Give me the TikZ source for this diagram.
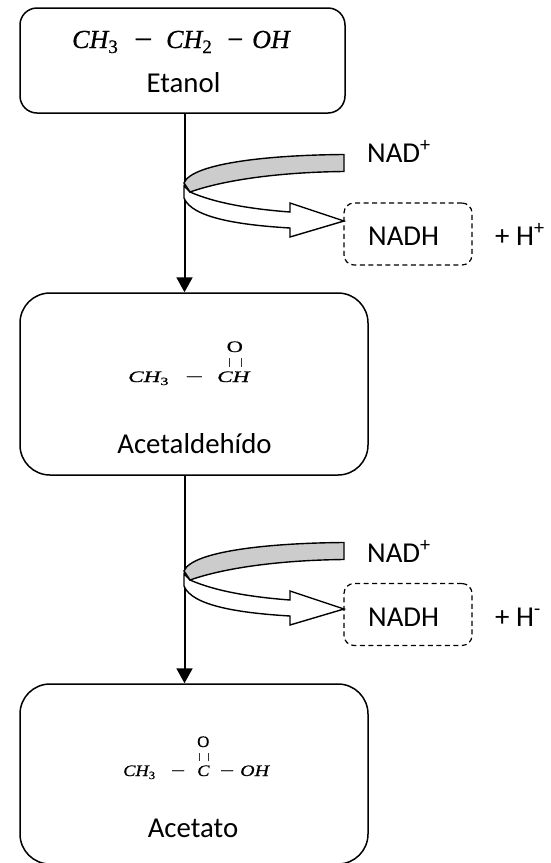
\RequirePackage{fix-cm}
\documentclass[tikz,border=0pt]{standalone}
\usepackage{fontspec}
\setmainfont{Carlito}
\newfontfamily\fmlafont[FakeBold=0.6]{Liberation Serif}
\usetikzlibrary{arrows.meta}
\tikzset{
  bigbox/.style={draw=black,line width=1.5pt,fill=white,rounded corners=30pt,inner sep=0pt,minimum width=348pt},
  topbox/.style={draw=black,line width=1.5pt,fill=white,rounded corners=17pt,inner sep=0pt,minimum width=325pt,minimum height=105pt},
  dashbox/.style={draw=black,line width=1.2pt,dashed,dash pattern=on 5pt off 3.5pt,rounded corners=10pt,inner sep=0pt,minimum width=128pt},
  label/.style={font=\fontsize{28.8}{30}\selectfont,inner sep=0pt,text=black},
  formula/.style={inner sep=0pt,text=black,anchor=base west},
  flow/.style={draw=black,line width=2pt,-{Triangle[length=15pt,width=16pt]}},
  ribbon/.style={draw=black,line width=1.4pt,line join=miter},
  dbl/.style={draw=black!80,line width=0.8pt}
}
% big formula pieces
\newcommand{\bigf}[2]{{\fmlafont\fontsize{26}{28}\selectfont\itshape #1\raisebox{-5pt}{\upshape\fontsize{19}{20}\selectfont #2}}}
% small formula pieces: stretched sideways like the reference
\newcommand{\smf}[3]{\scalebox{#1}[1]{\fmlafont\fontsize{16}{18}\selectfont\itshape #2\raisebox{-3pt}{\upshape\fontsize{11}{12}\selectfont #3}}}
\newcommand{\smo}[1]{\scalebox{#1}[1]{\fmlafont\fontsize{16}{18}\selectfont O}}
\newcommand{\ribbonpair}{%
  \path[ribbon,fill=white] (190,192) .. controls (215,203) and (250,209) .. (290,212) -- (290,203) -- (344,221) -- (290,237) -- (290,228) .. controls (240,225) and (192,218) .. (184,198) -- (184,186) -- cycle;
  \path[ribbon,fill=black!20] (344,154.5) .. controls (270,155) and (192,163) .. (184,183) -- (190,192) .. controls (230,178) and (290,172) .. (344,171.5) -- cycle;
}
\begin{document}
\begin{tikzpicture}[x=1pt,y=-1pt]
\useasboundingbox (0,0) rectangle (551,863);
\node[topbox] (etanol) at (182.5,60.5) {};
\node[bigbox,minimum height=182pt] (acet) at (194,384) {};
\node[bigbox,minimum height=180pt] (acetato) at (194,774) {};
\coordinate (t1) at (184.5,113);
\coordinate (t2) at (184.5,475);
\draw[flow] (t1) -- (t1 |- acet.north);
\draw[flow] (t2) -- (t2 |- acetato.north);
\ribbonpair
\begin{scope}[shift={(0,388)}]\ribbonpair\end{scope}
% top box
\node[formula] (f1a) at (72,48) {\bigf{CH}{3}};
\node[formula] (f1b) at (134,48) {\scalebox{1.25}[1]{\fontsize{26}{28}\selectfont\fmlafont −}};
\node[formula] (f1c) at (166,48) {\bigf{CH}{2}};
\node[formula] (f1d) at (227,48) {\scalebox{1.1}[1]{\fontsize{26}{28}\selectfont\fmlafont −}};
\node[formula] (f1e) at (252,48) {\bigf{OH}{}};
\node[label,anchor=base] (etanoltxt) at (183.5,92) {Etanol};
% acetaldehyde
\node[formula] (f2a) at (128,382) {\smf{1.45}{CH}{3}};
\node[formula] (f2m) at (183,382) {\smf{2}{−}{}};
\node[formula] (f2b) at (217,382) {\smf{1.45}{CH}{}};
\node[formula] (f2o) at (226.5,352) {\smo{1.4}};
\draw[dbl] (229.5,358) -- (229.5,367);
\draw[dbl] (241,358) -- (241,367);
\node[label,anchor=base] (acettxt) at (194.5,453) {Acetaldehído};
% acetate
\node[formula] (f3a) at (123,776) {\smf{1.15}{CH}{3}};
\node[formula] (f3m) at (169,776) {\smf{1.6}{−}{}};
\node[formula] (f3c) at (197,776) {\smf{1.15}{C}{}};
\node[formula] (f3n) at (218,776) {\smf{1.6}{−}{}};
\node[formula] (f3d) at (240,776) {\smf{1.25}{OH}{}};
\node[formula] (f3o) at (197,747) {\smo{1.05}};
\draw[dbl] (199,753) -- (199,761);
\draw[dbl] (208,753) -- (208,761);
\node[label,anchor=base] (acetatotxt) at (193,837) {Acetato};
% first cofactors
\node[dashbox,minimum height=62pt] (d1) at (408,234) {};
\node[label,anchor=base west] (nad1) at (367,162) {NAD\textsuperscript{+}};
\node[label,anchor=base west] (nadh1) at (368,245) {NADH};
\node[label,anchor=base west] (h1) at (495,245) {+ H\textsuperscript{+}};
% second cofactors
\node[dashbox,minimum height=62pt] (d2) at (408,614.5) {};
\node[label,anchor=base west] (nad2) at (367,562) {NAD\textsuperscript{+}};
\node[label,anchor=base west] (nadh2) at (368,626) {NADH};
\node[label,anchor=base west] (h2) at (495,626) {+ H\textsuperscript{-}};
\end{tikzpicture}
\end{document}
